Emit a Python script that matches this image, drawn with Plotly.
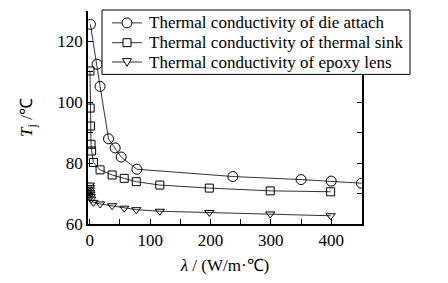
import plotly.graph_objects as go

die_x = [1, 12, 17, 31, 42, 52, 78, 237, 350, 400, 450]
die_y = [125.6, 112.5, 105.2, 88.0, 85.0, 82.0, 78.0, 75.6, 74.6, 74.1, 73.4]

sink_x = [0.3, 0.6, 1.0, 2.0, 3.0, 6, 17, 37, 57, 77, 116, 198, 299, 399]
sink_y = [110.3, 98.1, 92.2, 86.2, 84.0, 80.2, 77.8, 76.1, 75.0, 73.9, 72.8, 71.8, 70.9, 70.6]

lens_x = [0.1, 0.2, 0.4, 0.7, 1.0, 1.5, 2.5, 6, 17, 37, 57, 77, 116, 198, 299, 399]
lens_y = [72.8, 72.0, 71.2, 70.4, 69.8, 69.0, 68.2, 67.1, 66.6, 66.0, 65.2, 64.7, 64.2, 63.8, 63.3, 62.7]

names = ["Thermal conductivity of die attach",
         "Thermal conductivity of thermal sink",
         "Thermal conductivity of epoxy lens"]

FONT = "Liberation Serif"
W, H = 448, 283
ML, MR, MT, MB = 88, 86, 11, 57
PW, PH = W - ML - MR, H - MT - MB


def px(x):  # pixel x -> paper
    return (x - ML) / PW


def py(y):  # pixel y -> paper
    return (H - MB - y) / PH


fig = go.Figure()
for xs, ys, nm, sym, sz in [(die_x, die_y, names[0], "circle-open", 10),
                            (sink_x, sink_y, names[1], "square-open", 8),
                            (lens_x, lens_y, names[2], "triangle-down-open", 8)]:
    fig.add_trace(go.Scatter(
        x=xs, y=ys, name=nm, mode="lines+markers", showlegend=False,
        line=dict(color="#333333", width=1),
        marker=dict(symbol=sym, size=sz, color="black", line=dict(width=1, color="black")),
    ))

# hand-built legend box (compact, like the reference)
shapes = [dict(type="rect", xref="paper", yref="paper", layer="above",
               x0=px(102), x1=px(410), y0=py(75), y1=py(10),
               fillcolor="white", line=dict(color="black", width=1))]
rows = [23, 43, 62.5]
kx = 127
for i, (nm, ry) in enumerate(zip(names, rows)):
    shapes.append(dict(type="line", xref="paper", yref="paper", layer="above",
                       x0=px(112), x1=px(142), y0=py(ry), y1=py(ry),
                       line=dict(color="#333333", width=1)))
    if i == 0:
        shapes.append(dict(type="circle", xref="paper", yref="paper", layer="above",
                           x0=px(kx - 5), x1=px(kx + 5), y0=py(ry + 5), y1=py(ry - 5),
                           fillcolor="white", line=dict(color="black", width=1)))
    elif i == 1:
        shapes.append(dict(type="rect", xref="paper", yref="paper", layer="above",
                           x0=px(kx - 4), x1=px(kx + 4), y0=py(ry + 4), y1=py(ry - 4),
                           fillcolor="white", line=dict(color="black", width=1)))
    else:
        path = "M {} {} L {} {} L {} {} Z".format(
            px(kx - 4.5), py(ry - 3.5), px(kx + 4.5), py(ry - 3.5), px(kx), py(ry + 4.5))
        shapes.append(dict(type="path", xref="paper", yref="paper", layer="above",
                           path=path, fillcolor="white", line=dict(color="black", width=1)))
    fig.add_annotation(text=nm, xref="paper", yref="paper", x=px(147), y=py(ry),
                       xanchor="left", yanchor="middle", showarrow=False,
                       font=dict(family=FONT, size=17, color="black"))

fig.update_layout(
    width=W, height=H,
    margin=dict(l=ML, r=MR, t=MT, b=MB),
    paper_bgcolor="white", plot_bgcolor="white",
    font=dict(family=FONT, size=17, color="black"),
    showlegend=False,
    shapes=shapes,
)
fig.update_xaxes(
    range=[-3, 451], showgrid=False, zeroline=False,
    showline=True, linecolor="black", linewidth=1.5, mirror=False,
    tickvals=[0, 100, 200, 300, 400], ticks="inside", ticklen=5, tickcolor="black",
    minor=dict(ticks="inside", dtick=50, tick0=0, ticklen=5, tickcolor="black"),
    title=dict(text="<i>λ</i> / (W/m·℃)", standoff=10, font=dict(size=17)),
)
fig.update_yaxes(
    range=[60, 130], showgrid=False, zeroline=False,
    showline=True, linecolor="black", linewidth=1.5, mirror="ticks",
    tickvals=[60, 80, 100, 120], ticks="inside", ticklen=5, tickcolor="black",
    minor=dict(ticks="inside", dtick=10, tick0=60, ticklen=5, tickcolor="black"),
    title=dict(text="<i>T</i><sub>j</sub> /℃", standoff=20, font=dict(size=17)),
)
fig.write_html("out.html")
